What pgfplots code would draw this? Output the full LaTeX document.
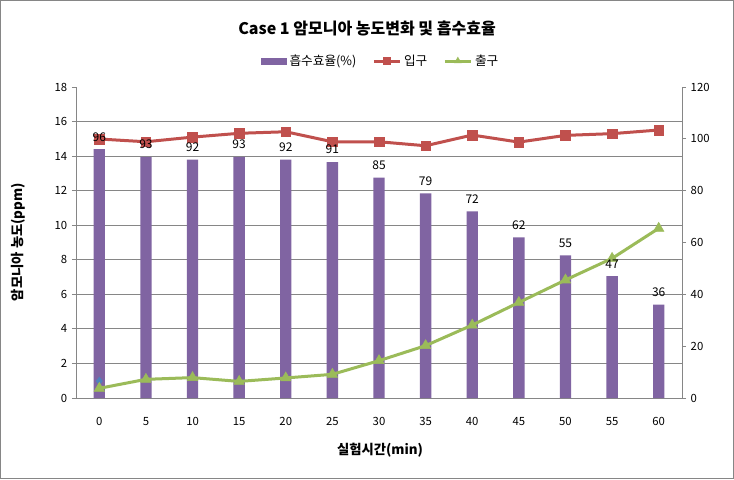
\documentclass[border=0pt]{standalone}
\usepackage{pgfplots}
\usepackage{pgfplotstable}
\pgfplotsset{compat=1.18}
\usepackage{fontspec}
\setmainfont{Noto Sans CJK KR}
\definecolor{barc}{HTML}{8064A2}
\definecolor{redc}{HTML}{C0504D}
\definecolor{grnc}{HTML}{9BBB59}
\definecolor{bluc}{HTML}{4F81BD}
\definecolor{axc}{HTML}{868686}
\pgfplotstableread{
x eff inlet outlet
0 96 14.99 0.56
1 93 14.83 1.08
2 92 15.10 1.18
3 93 15.32 0.96
4 92 15.41 1.16
5 91 14.83 1.37
6 85 14.83 2.16
7 79 14.60 3.03
8 72 15.22 4.22
9 62 14.81 5.53
10 55 15.20 6.83
11 47 15.30 8.08
12 36 15.51 9.82
}\data
\pgfplotsset{common/.style={scale only axis, width=454.5pt, height=233.25pt,
  xmin=-0.5, xmax=12.5, at={(0,0)}, anchor=south west,
  /pgf/number format/assume math mode=true,
  tick label style={font=\fontsize{8.5}{10}\selectfont},
  axis line style={axc, line width=0.75pt}},
  linelegend/.style={legend image code/.code={%
    \draw[mark repeat=2, mark phase=2, ##1, mark size=2.8pt]
      plot coordinates {(0pt,0pt) (9.75pt,0pt) (19.5pt,0pt)};}}}
\begin{document}
\begin{tikzpicture}
\path[use as bounding box] (-57pt,-60.75pt) rectangle (493.5pt,298.5pt);
\fill[white] (-57pt,-60.75pt) rectangle (493.5pt,298.5pt);
\draw[axc, line width=0.75pt] (-56.6pt,-60.35pt) rectangle (493.1pt,298.1pt);
\begin{axis}[common, ymin=0, ymax=18, ytick={0,2,...,18},
  axis y line*=left, axis x line*=bottom,
  xtick={0,...,12}, xticklabels={0,5,10,15,20,25,30,35,40,45,50,55,60},
  major x tick style={draw=none},
  ytick style={axc, line width=0.75pt}, tick align=outside, major tick length=3pt,
  extra y ticks={2,4,...,16}, extra y tick labels={},
  extra y tick style={grid=major, major tick length=0pt},
  grid style={axc, line width=0.75pt},
  xticklabel style={yshift=-8pt}]
\addplot[draw=none] coordinates {(0,0)};
\end{axis}
\begin{axis}[common, ymin=0, ymax=120, ytick={0,20,...,120},
  axis y line*=right, axis x line=none,
  tick align=outside, major tick length=3pt,
  ytick style={axc, line width=0.75pt},
  ybar, bar width=8.5pt]
\addplot[fill=barc, draw=none] table[x=x,y=eff]{\data};
\end{axis}
\begin{axis}[common, ymin=0, ymax=18, hide axis,
  legend style={at={(0.5,1)}, anchor=center, xshift=1.5pt, yshift=19.5pt, draw=none, fill=none,
    font=\fontsize{9.5}{10}\selectfont,
    /tikz/every even column/.append style={column sep=10pt}},
  legend columns=3, legend cell align=left]
\addplot[only marks, mark=diamond*, mark size=3pt, bluc, forget plot] coordinates {(0,0.98)};
\addlegendimage{legend image code/.code={\fill[barc] (0pt,-2.4pt) rectangle (19pt,2.4pt);}}
\addlegendentry{흡수효율(\%)}
\addplot[redc, line width=2.25pt, mark=square*, mark size=3.6pt, mark options={solid, line width=0.4pt}, linelegend] table[x=x,y=inlet]{\data};
\addlegendentry{입구}
\addplot[grnc, line width=2.25pt, mark=triangle*, mark size=4.5pt, mark options={solid, line width=0.4pt}, linelegend] table[x=x,y=outlet]{\data};
\addlegendentry{출구}
\end{axis}
\begin{axis}[common, ymin=0, ymax=120, hide axis,
  nodes near coords,
  nodes near coords style={font=\fontsize{9}{10}\selectfont, black, yshift=2.5pt}]
\addplot[only marks, mark=none, draw=none] table[x=x,y=eff]{\data};
\end{axis}
\node[font=\fontsize{12}{14}\selectfont\bfseries] at (218.25pt,277.5pt) {Case 1 암모니아 농도변화 및 흡수효율};
\node[font=\fontsize{10}{12}\selectfont\bfseries, rotate=90] at (-43.5pt,117pt) {암모니아 농도(ppm)};
\node[font=\fontsize{10}{12}\selectfont\bfseries] at (228pt,-39pt) {실험시간(min)};
\end{tikzpicture}
\end{document}
